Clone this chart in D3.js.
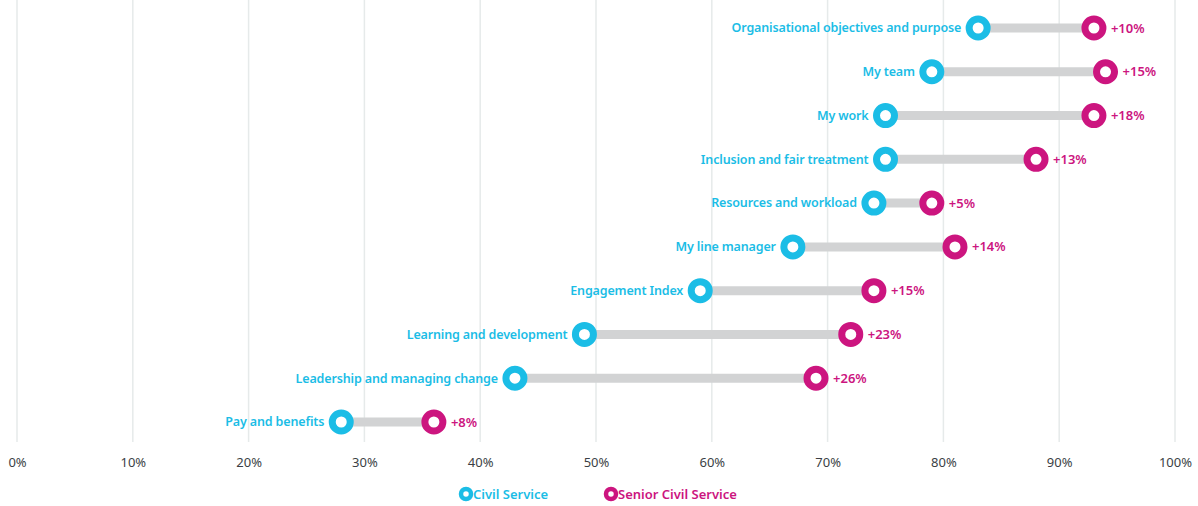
<!DOCTYPE html>
<html>
<head>
<meta charset="utf-8">
<script src="https://cdn.jsdelivr.net/npm/d3@7"></script>
<style>
  body { margin: 0; background: #fff; }
  text { font-family: "Noto Sans", "Open Sans", sans-serif; }
</style>
</head>
<body>
<script>
// chart data
var categories = ['Organisational objectives and purpose', 'My team', 'My work',
  'Inclusion and fair treatment', 'Resources and workload', 'My line manager',
  'Engagement Index', 'Learning and development', 'Leadership and managing change',
  'Pay and benefits'];
var civilService = [83, 79, 75, 75, 74, 67, 59, 49, 43, 28];
var seniorCivilService = [93, 94, 93, 88, 79, 81, 74, 72, 69, 36];
var diffLabels = ['+10%', '+15%', '+18%', '+13%', '+5%', '+14%', '+15%', '+23%', '+26%', '+8%'];
var ticks = [0, 10, 20, 30, 40, 50, 60, 70, 80, 90, 100];
var seriesNames = ['Civil Service', 'Senior Civil Service'];

var width = 1198;
var height = 506;
var cyan = '#1bbde6';
var pink = '#cc157f';

var svg = d3.select('body').append('svg')
  .attr('width', width)
  .attr('height', height);

var x = d3.scaleLinear().domain([0, 100]).range([17, 1175]);
var y = d3.scalePoint().domain(categories).range([28, 422]);

// gridlines
svg.selectAll('line.grid')
  .data(ticks)
  .enter().append('line')
  .attr('class', 'grid')
  .attr('x1', function(d) { return x(d); })
  .attr('x2', function(d) { return x(d); })
  .attr('y1', 0)
  .attr('y2', 442)
  .attr('stroke', '#e6eaea')
  .attr('stroke-width', 1.5);

// x axis labels
var axis = d3.axisBottom(x).tickValues(ticks)
  .tickFormat(function(d) { return d + '%'; })
  .tickSize(0).tickPadding(0);
var gx = svg.append('g').attr('transform', 'translate(0,467)').call(axis);
gx.select('.domain').remove();
gx.selectAll('text')
  .attr('dy', 0)
  .attr('fill', '#3b3f45')
  .style('font-size', '13px')
  .style('font-family', '"Noto Sans", "Open Sans", sans-serif');

var rows = categories.map(function(c, i) {
  return { cat: c, cs: civilService[i], scs: seniorCivilService[i], diff: diffLabels[i] };
});

// connectors
svg.selectAll('line.conn')
  .data(rows)
  .enter().append('line')
  .attr('class', 'conn')
  .attr('x1', function(d) { return x(d.cs); })
  .attr('x2', function(d) { return x(d.scs); })
  .attr('y1', function(d) { return y(d.cat); })
  .attr('y2', function(d) { return y(d.cat); })
  .attr('stroke', '#d2d3d4')
  .attr('stroke-width', 9);

// circles
svg.selectAll('circle.cs')
  .data(rows)
  .enter().append('circle')
  .attr('cx', function(d) { return x(d.cs); })
  .attr('cy', function(d) { return y(d.cat); })
  .attr('r', 9)
  .attr('fill', '#fff')
  .attr('stroke', cyan)
  .attr('stroke-width', 7);

svg.selectAll('circle.scs')
  .data(rows)
  .enter().append('circle')
  .attr('cx', function(d) { return x(d.scs); })
  .attr('cy', function(d) { return y(d.cat); })
  .attr('r', 9)
  .attr('fill', '#fff')
  .attr('stroke', pink)
  .attr('stroke-width', 7);

// category labels
svg.selectAll('text.cat')
  .data(rows)
  .enter().append('text')
  .attr('x', function(d) { return x(d.cs) - 17; })
  .attr('y', function(d) { return y(d.cat); })
  .attr('dy', '0.35em')
  .attr('text-anchor', 'end')
  .attr('fill', cyan)
  .style('font-size', '12.5px')
  .style('font-weight', 600)
  .style('letter-spacing', '-0.15px')
  .text(function(d) { return d.cat; });

// difference labels
svg.selectAll('text.diff')
  .data(rows)
  .enter().append('text')
  .attr('x', function(d) { return x(d.scs) + 17; })
  .attr('y', function(d) { return y(d.cat); })
  .attr('dy', '0.35em')
  .attr('fill', pink)
  .style('font-size', '13px')
  .style('font-weight', 600)
  .text(function(d) { return d.diff; });

// legend
var legend = svg.selectAll('g.legend')
  .data(seriesNames)
  .enter().append('g')
  .attr('transform', function(d, i) { return 'translate(' + [466, 611][i] + ',494)'; });
legend.append('circle')
  .attr('r', 5)
  .attr('fill', '#fff')
  .attr('stroke', function(d, i) { return i ? pink : cyan; })
  .attr('stroke-width', 4.5);
legend.append('text')
  .attr('x', 7)
  .attr('dy', '0.35em')
  .attr('fill', function(d, i) { return i ? pink : cyan; })
  .style('font-size', '13px')
  .style('font-weight', 600)
  .text(function(d) { return d; });
</script>
</body>
</html>
